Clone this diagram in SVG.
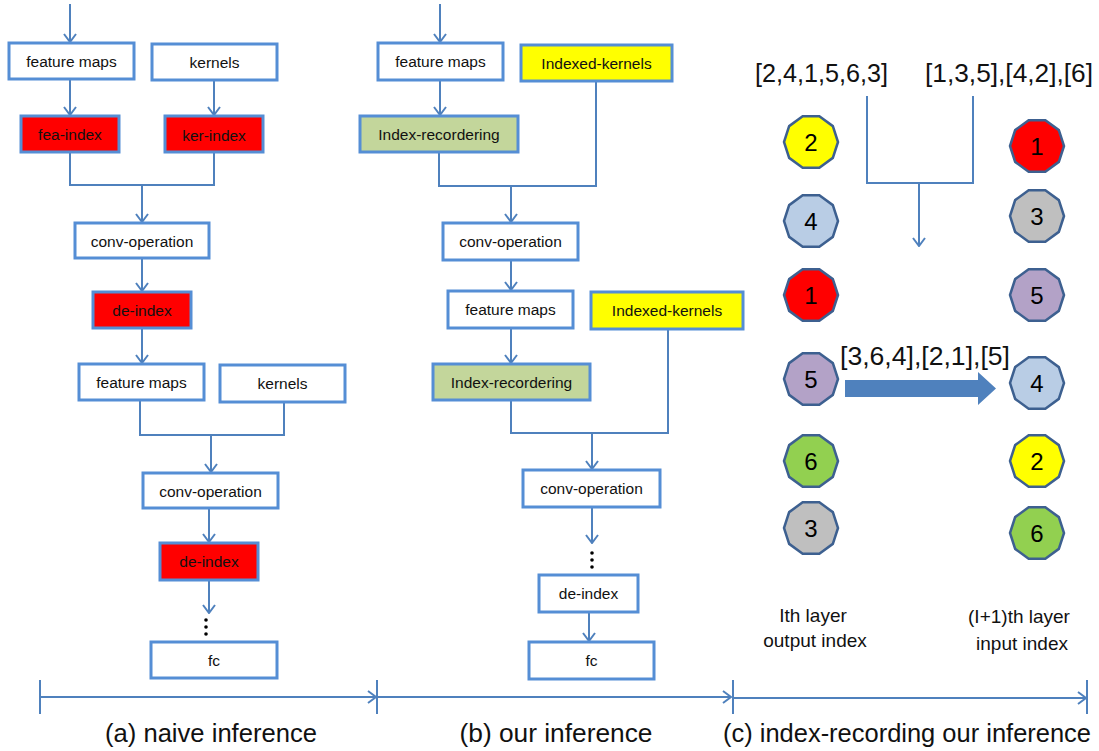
<svg xmlns="http://www.w3.org/2000/svg" xmlns:xlink="http://www.w3.org/1999/xlink" width="1099" height="751" viewBox="0 0 1099 751">
<style>
.bx{fill:#fff;stroke:#558ed5;stroke-width:3}
.red{fill:#ff0000}
.yel{fill:#ffff00}
.grn{fill:#c3d69b}
.t{font-family:"Liberation Sans",Arial,sans-serif;font-size:15.5px;fill:#111;text-anchor:middle}
.ln{fill:none;stroke:#4f81bd;stroke-width:2}
.lc{fill:none;stroke:#4f81bd;stroke-width:2}
.big{font-family:"Liberation Sans",Arial,sans-serif;font-size:25px;fill:#111}
.lab{font-family:"Liberation Sans",Arial,sans-serif;font-size:19px;fill:#111;text-anchor:middle}
.dg{font-family:"Liberation Sans",Arial,sans-serif;font-size:24px;fill:#000;text-anchor:middle}
.dec{stroke:#3d6090;stroke-width:2.5}
.dot{fill:#000}
</style>
<defs>
<marker id="arr" viewBox="0 0 10 14" refX="9" refY="7" markerWidth="10" markerHeight="14" markerUnits="userSpaceOnUse" orient="auto">
<path d="M1,1 L9,7 L1,13" fill="none" stroke="#4f81bd" stroke-width="2"/>
</marker>
<polygon id="deca" points="27,0 21.84,15.87 8.34,25.68 -8.34,25.68 -21.84,15.87 -27,0 -21.84,-15.87 -8.34,-25.68 8.34,-25.68 21.84,-15.87"/>
</defs>
<rect width="1099" height="751" fill="#fff"/>

<g id="connectors">
<!-- column a -->
<line class="ln" x1="70" y1="4" x2="70" y2="42" marker-end="url(#arr)"/>
<line class="ln" x1="70" y1="79" x2="70" y2="115" marker-end="url(#arr)"/>
<line class="ln" x1="214" y1="80" x2="214" y2="115" marker-end="url(#arr)"/>
<polyline class="ln" points="70,152 70,185 214,185 214,152"/>
<line class="ln" x1="142" y1="185" x2="142" y2="222" marker-end="url(#arr)"/>
<line class="ln" x1="142" y1="258" x2="142" y2="291" marker-end="url(#arr)"/>
<line class="ln" x1="142" y1="328" x2="142" y2="363" marker-end="url(#arr)"/>
<polyline class="ln" points="140,400 140,435 284,435 284,402"/>
<line class="ln" x1="211" y1="435" x2="211" y2="472" marker-end="url(#arr)"/>
<line class="ln" x1="209" y1="508" x2="209" y2="542" marker-end="url(#arr)"/>
<line class="ln" x1="209" y1="580" x2="209" y2="613" marker-end="url(#arr)"/>
<!-- column b -->
<line class="ln" x1="440" y1="4" x2="440" y2="42" marker-end="url(#arr)"/>
<line class="ln" x1="440" y1="80" x2="440" y2="115" marker-end="url(#arr)"/>
<polyline class="ln" points="439,152 439,186 596,186 596,81"/>
<line class="ln" x1="511" y1="186" x2="511" y2="222" marker-end="url(#arr)"/>
<line class="ln" x1="511" y1="260" x2="511" y2="290" marker-end="url(#arr)"/>
<line class="ln" x1="511" y1="328" x2="511" y2="363" marker-end="url(#arr)"/>
<polyline class="ln" points="511,400 511,433 668,433 668,329"/>
<line class="ln" x1="592" y1="433" x2="592" y2="469" marker-end="url(#arr)"/>
<line class="ln" x1="592" y1="507" x2="592" y2="543" marker-end="url(#arr)"/>
<line class="ln" x1="589" y1="612" x2="589" y2="641" marker-end="url(#arr)"/>
<!-- column c -->
<polyline class="lc" points="867,96 867,184"/>
<polyline class="lc" points="973,96 973,184"/>
<line class="lc" x1="867" y1="183" x2="973" y2="183"/>
<line class="lc" x1="919" y1="183" x2="919" y2="246" marker-end="url(#arr)"/>
<polygon points="845,380 978,380 978,372 996,388.5 978,405 978,397 845,397" fill="#4f81bd"/>
<!-- axis -->
<line class="ln" x1="40" y1="680" x2="40" y2="714"/>
<line class="ln" x1="377" y1="680" x2="377" y2="714"/>
<line class="ln" x1="733" y1="680" x2="733" y2="714"/>
<line class="ln" x1="1087" y1="680" x2="1087" y2="714"/>
<line class="ln" x1="40" y1="697" x2="376" y2="697" marker-end="url(#arr)"/>
<line class="ln" x1="377" y1="697" x2="731" y2="697" marker-end="url(#arr)"/>
<line class="ln" x1="733" y1="698" x2="1086" y2="698" marker-end="url(#arr)"/>
</g>

<!-- column a nodes -->
<g id="a-featuremaps1"><rect class="bx" x="9" y="43" width="125" height="36"/><text class="t" x="71.5" y="66.5">feature maps</text></g>
<g id="a-kernels1"><rect class="bx" x="152" y="44" width="125" height="36"/><text class="t" x="214.5" y="67.5">kernels</text></g>
<g id="a-feaindex"><rect class="bx red" x="21" y="116" width="98" height="36"/><text class="t" x="70" y="139.5">fea-index</text></g>
<g id="a-kerindex"><rect class="bx red" x="165" y="116" width="98" height="36"/><text class="t" x="214" y="140.5">ker-index</text></g>
<g id="a-conv1"><rect class="bx" x="75" y="223" width="134" height="35"/><text class="t" x="142" y="246.5">conv-operation</text></g>
<g id="a-deindex1"><rect class="bx red" x="93" y="292" width="98" height="36"/><text class="t" x="142" y="315.5">de-index</text></g>
<g id="a-featuremaps2"><rect class="bx" x="79" y="364" width="125" height="36"/><text class="t" x="141.5" y="387.5">feature maps</text></g>
<g id="a-kernels2"><rect class="bx" x="220" y="365" width="125" height="37"/><text class="t" x="282.5" y="389">kernels</text></g>
<g id="a-conv2"><rect class="bx" x="143" y="473" width="135" height="35"/><text class="t" x="210.5" y="496.5">conv-operation</text></g>
<g id="a-deindex2"><rect class="bx red" x="160" y="543" width="98" height="37"/><text class="t" x="209" y="567">de-index</text></g>
<g id="a-dots"><circle class="dot" cx="206" cy="620" r="1.8"/><circle class="dot" cx="206" cy="627" r="1.8"/><circle class="dot" cx="206" cy="634" r="1.8"/></g>
<g id="a-fc"><rect class="bx" x="151" y="642" width="126" height="36"/><text class="t" x="214" y="665.5">fc</text></g>

<!-- column b nodes -->
<g id="b-featuremaps1"><rect class="bx" x="378" y="43" width="125" height="37"/><text class="t" x="440.5" y="67">feature maps</text></g>
<g id="b-indexedkernels1"><rect class="bx yel" x="521" y="45" width="151" height="36"/><text class="t" x="596.5" y="68.5">Indexed-kernels</text></g>
<g id="b-indexrec1"><rect class="bx grn" x="360" y="116" width="158" height="36"/><text class="t" x="439" y="139.5">Index-recordering</text></g>
<g id="b-conv1"><rect class="bx" x="443" y="223" width="135" height="37"/><text class="t" x="510.5" y="247">conv-operation</text></g>
<g id="b-featuremaps2"><rect class="bx" x="448" y="291" width="125" height="37"/><text class="t" x="510.5" y="315">feature maps</text></g>
<g id="b-indexedkernels2"><rect class="bx yel" x="591" y="292" width="152" height="37"/><text class="t" x="667" y="316">Indexed-kernels</text></g>
<g id="b-indexrec2"><rect class="bx grn" x="433" y="364" width="157" height="36"/><text class="t" x="511.5" y="387.5">Index-recordering</text></g>
<g id="b-conv2"><rect class="bx" x="523" y="470" width="137" height="37"/><text class="t" x="591.5" y="494">conv-operation</text></g>
<g id="b-dots"><circle class="dot" cx="592" cy="553" r="1.8"/><circle class="dot" cx="592" cy="560" r="1.8"/><circle class="dot" cx="592" cy="567" r="1.8"/></g>
<g id="b-deindex"><rect class="bx" x="539" y="575" width="99" height="37"/><text class="t" x="588.5" y="599">de-index</text></g>
<g id="b-fc"><rect class="bx" x="529" y="642" width="125" height="37"/><text class="t" x="591.5" y="666">fc</text></g>

<!-- column c -->
<g id="c-list-left"><text class="big" x="755" y="82" textLength="133" lengthAdjust="spacingAndGlyphs">[2,4,1,5,6,3]</text></g>
<g id="c-list-right"><text class="big" x="925" y="82" textLength="168" lengthAdjust="spacingAndGlyphs">[1,3,5],[4,2],[6]</text></g>
<g id="c-list-mid"><text class="big" x="840" y="365" textLength="170" lengthAdjust="spacingAndGlyphs">[3,6,4],[2,1],[5]</text></g>

<g id="c-L2"><use xlink:href="#deca" class="dec" x="811" y="142" fill="#ffff00"/><text class="dg" x="811" y="151">2</text></g>
<g id="c-L4"><use xlink:href="#deca" class="dec" x="811" y="221" fill="#b9cde5"/><text class="dg" x="811" y="230">4</text></g>
<g id="c-L1"><use xlink:href="#deca" class="dec" x="811" y="295" fill="#ff0000"/><text class="dg" x="811" y="304">1</text></g>
<g id="c-L5"><use xlink:href="#deca" class="dec" x="811" y="379" fill="#b3a2c7"/><text class="dg" x="811" y="388">5</text></g>
<g id="c-L6"><use xlink:href="#deca" class="dec" x="811" y="461" fill="#92d050"/><text class="dg" x="811" y="470">6</text></g>
<g id="c-L3"><use xlink:href="#deca" class="dec" x="811" y="528" fill="#bfbfbf"/><text class="dg" x="811" y="537">3</text></g>

<g id="c-R1"><use xlink:href="#deca" class="dec" x="1037" y="146" fill="#ff0000"/><text class="dg" x="1037" y="155">1</text></g>
<g id="c-R3"><use xlink:href="#deca" class="dec" x="1037" y="216" fill="#bfbfbf"/><text class="dg" x="1037" y="225">3</text></g>
<g id="c-R5"><use xlink:href="#deca" class="dec" x="1037" y="295" fill="#b3a2c7"/><text class="dg" x="1037" y="304">5</text></g>
<g id="c-R4"><use xlink:href="#deca" class="dec" x="1037" y="383" fill="#b9cde5"/><text class="dg" x="1037" y="392">4</text></g>
<g id="c-R2"><use xlink:href="#deca" class="dec" x="1037" y="461" fill="#ffff00"/><text class="dg" x="1037" y="470">2</text></g>
<g id="c-R6"><use xlink:href="#deca" class="dec" x="1037" y="533" fill="#92d050"/><text class="dg" x="1037" y="542">6</text></g>

<g id="c-label-left"><text class="lab" x="813" y="622">Ith layer</text><text class="lab" x="815" y="647">output index</text></g>
<g id="c-label-right"><text class="lab" x="1019" y="623">(I+1)th layer</text><text class="lab" x="1022" y="650">input index</text></g>

<g id="captions">
<text class="big" x="211" y="742" text-anchor="middle" textLength="212" lengthAdjust="spacingAndGlyphs">(a) naive inference</text>
<text class="big" x="556" y="742" text-anchor="middle" textLength="193" lengthAdjust="spacingAndGlyphs">(b) our inference</text>
<text class="big" x="907" y="742" text-anchor="middle" textLength="368" lengthAdjust="spacingAndGlyphs">(c) index-recording our inference</text>
</g>
</svg>
